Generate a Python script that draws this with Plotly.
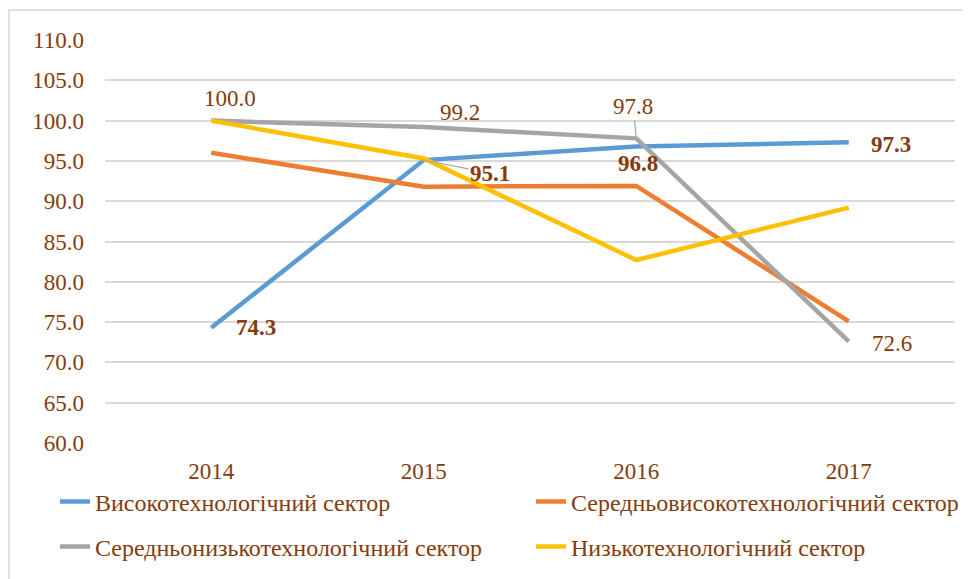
import plotly.graph_objects as go

years = ["2014", "2015", "2016", "2017"]
series_names = [
    "Високотехнологічний сектор",
    "Середньовисокотехнологічний сектор",
    "Середньонизькотехнологічний сектор",
    "Низькотехнологічний сектор",
]
high_tech = [74.3, 95.1, 96.8, 97.3]
med_high_tech = [96.0, 91.8, 91.9, 75.1]
med_low_tech = [100.0, 99.2, 97.8, 72.6]
low_tech = [100.0, 95.3, 82.7, 89.2]
y_ticks = [60.0, 65.0, 70.0, 75.0, 80.0, 85.0, 90.0, 95.0, 100.0, 105.0, 110.0]

colors = ["#5B9BD5", "#ED7D31", "#A5A5A5", "#FFC000"]
brown = "#843C0C"
FONT = "Liberation Serif, Times New Roman, serif"
FS = 23

values = [high_tech, med_high_tech, med_low_tech, low_tech]
legend_ids = ["legend", "legend2", "legend3", "legend4"]

fig = go.Figure()
for name, vals, col, lg in zip(series_names, values, colors, legend_ids):
    fig.add_trace(go.Scatter(
        x=years, y=vals, name=name, mode="lines",
        line=dict(color=col, width=4.5),
        legend=lg, hoverinfo="skip",
    ))

# data labels: (series values, index, xshift, yshift, bold, arrow offset)
label_specs = [
    (high_tech, 0, 45, 0, True, None),
    (high_tech, 1, 67, -13, True, (66, 13)),
    (high_tech, 2, 2, -17, True, None),
    (high_tech, 3, 42, -2, True, None),
    (med_low_tech, 0, 19, 22, False, None),
    (med_low_tech, 1, 36, 15, False, None),
    (med_low_tech, 2, -3, 30, False, (-3, -32)),
    (med_low_tech, 3, 43, -2, False, None),
]
for vals, i, xs, ys, bold, arrow in label_specs:
    txt = f"{vals[i]:.1f}"
    if bold:
        txt = f"<b>{txt}</b>"
    if arrow is None:
        fig.add_annotation(x=i, y=vals[i], text=txt, showarrow=False,
                           xshift=xs, yshift=ys,
                           font=dict(family=FONT, size=FS, color=brown))
    else:
        fig.add_annotation(x=i, y=vals[i], text=txt, showarrow=True,
                           ax=arrow[0], ay=arrow[1], arrowhead=0, arrowwidth=1.2,
                           arrowcolor="#A5A5A5", standoff=2,
                           font=dict(family=FONT, size=FS, color=brown))

# outer chart-area border (left & top visible)
fig.add_shape(type="rect", xref="paper", yref="paper",
              x0=(9 - 105) / 850, x1=(990 - 105) / 850,
              y0=-0.5, y1=(443 - 10) / 403,
              line=dict(color="#D9D9D9", width=1.5), fillcolor="rgba(0,0,0,0)",
              layer="below")

# page body has an 8px margin: positions below are compensated for it
OFF = 8
legend_pos = [(55, 502), (531, 502), (55, 547), (531, 547)]
leg_layout = {}
for lg, (px, py) in zip(legend_ids, legend_pos):
    leg_layout[lg] = dict(
        orientation="h", xref="container", yref="container",
        x=(px - OFF) / 970, xanchor="left", y=1 - (py - OFF) / 579, yanchor="middle",
        font=dict(family=FONT, size=24, color=brown),
        bgcolor="rgba(0,0,0,0)",
    )

fig.update_layout(
    width=970, height=579,
    margin=dict(l=105 - OFF, r=15 + OFF, t=40 - OFF, b=136 + OFF, autoexpand=False),
    paper_bgcolor="white", plot_bgcolor="white",
    font=dict(family=FONT, size=FS, color=brown),
    showlegend=True,
    **leg_layout,
    xaxis=dict(type="category", range=[-0.5, 3.5], showgrid=False,
               showline=False, zeroline=False, ticks="", automargin=False,
               tickfont=dict(family=FONT, size=FS, color=brown),
               ticklabelstandoff=12),
    yaxis=dict(range=[60, 110], tickvals=y_ticks, tickformat=".1f",
               showgrid=True, gridcolor="#D9D9D9", gridwidth=1.5,
               zeroline=False, showline=False, ticks="", automargin=False,
               tickfont=dict(family=FONT, size=FS, color=brown),
               ticklabelstandoff=20),
)

fig.write_html("out.html")
